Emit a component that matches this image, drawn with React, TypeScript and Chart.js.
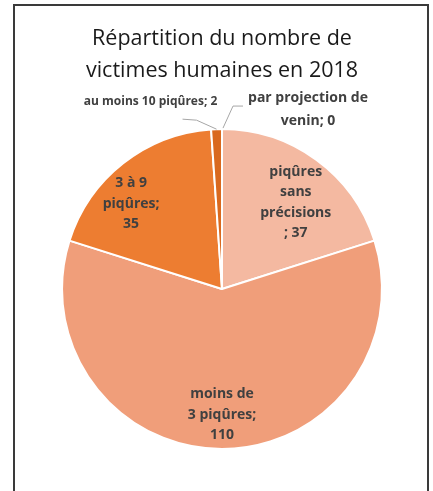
import React, { useEffect, useRef } from "react";
import { Chart, registerables } from "chart.js";

Chart.register(...registerables);

const categories = [
  "piqûres sans précisions",
  "moins de 3 piqûres",
  "3 à 9 piqûres",
  "au moins 10 piqûres",
  "par projection de venin",
];
const values = [37, 110, 35, 2, 0];
const labelLines = [
  ["piqûres", "sans", "précisions", "; 37"],
  ["moins de", "3 piqûres;", "110"],
  ["3 à 9", "piqûres;", "35"],
  ["au moins 10 piqûres; 2"],
  ["par projection de", "venin; 0"],
];
const titleLines = ["Répartition du nombre de", "victimes humaines en 2018"];
const colors = ["#F4B9A1", "#F09E7A", "#ED7D31", "#D9691F", "#C55A11"];

const labelPlugin = {
  id: "pieLabels",
  afterDatasetsDraw(chart: any) {
    const ctx = chart.ctx;
    const meta = chart.getDatasetMeta(0);
    ctx.save();
    ctx.font = "bold 14px 'Open Sans'";
    ctx.fillStyle = "#404040";
    ctx.textAlign = "center";
    ctx.textBaseline = "middle";
    const lh = 20.5;
    // inside labels: [index, radial fraction, angle shift in radians]
    const inside: [number, number, number][] = [
      [0, 0.71, 0.075],
      [1, 0.785, 0.0],
      [2, 0.78, -0.15],
    ];
    inside.forEach(([i, f, da]) => {
      const arc = meta.data[i];
      const p = arc.getProps(["x", "y", "startAngle", "endAngle", "outerRadius"], true);
      const mid = (p.startAngle + p.endAngle) / 2 + da;
      const cx = p.x + Math.cos(mid) * p.outerRadius * f;
      const cy = p.y + Math.sin(mid) * p.outerRadius * f;
      const lines = labelLines[i];
      lines.forEach((t, k) => {
        ctx.fillText(t, cx, cy + (k - (lines.length - 1) / 2) * lh);
      });
    });
    // outside labels with leader lines
    ctx.strokeStyle = "#A6A6A6";
    ctx.lineWidth = 1;
    {
      const arc = meta.data[4];
      const p = arc.getProps(["x", "y", "startAngle", "endAngle", "outerRadius"], true);
      const mid = (p.startAngle + p.endAngle) / 2;
      const ox = p.x + Math.cos(mid) * p.outerRadius;
      const oy = p.y + Math.sin(mid) * p.outerRadius;
      ctx.beginPath();
      ctx.moveTo(ox + 1, oy - 1);
      ctx.lineTo(ox + 11, oy - 23);
      ctx.lineTo(ox + 21, oy - 23);
      ctx.stroke();
      const lines = labelLines[4];
      lines.forEach((t, k) => {
        ctx.fillText(t, ox + 86, oy - 31 + k * 23);
      });
    }
    {
      ctx.font = "bold 12px 'Open Sans'";
      const arc = meta.data[3];
      const p = arc.getProps(["x", "y", "startAngle", "endAngle", "outerRadius"], true);
      const mid = (p.startAngle + p.endAngle) / 2;
      const ox = p.x + Math.cos(mid) * p.outerRadius;
      const oy = p.y + Math.sin(mid) * p.outerRadius;
      ctx.beginPath();
      ctx.moveTo(ox, oy);
      ctx.lineTo(ox - 20, oy - 9);
      ctx.lineTo(ox - 34, oy - 10);
      ctx.stroke();
      ctx.fillText(labelLines[3][0], ox - 66, oy - 28);
    }
    ctx.restore();
  },
};

export default function App() {
  const ref = useRef<HTMLCanvasElement>(null);
  useEffect(() => {
    if (!ref.current) return;
    const chart = new Chart(ref.current, {
      type: "pie",
      data: {
        labels: categories,
        datasets: [
          {
            data: values,
            backgroundColor: colors,
            borderColor: "#FFFFFF",
            borderWidth: 2,
          },
        ],
      },
      options: {
        animation: false,
        responsive: false,
        maintainAspectRatio: false,
        layout: { padding: { left: 61, right: 50, top: 0, bottom: 41 } },
        plugins: {
          legend: { display: false },
          tooltip: { enabled: false },
          title: {
            display: true,
            text: titleLines,
            color: "#1a1a1a",
            font: { family: "'Open Sans'", size: 21.5, weight: "normal", lineHeight: 1.49 },
            padding: { top: 23, bottom: 41 },
          },
        },
      },
      plugins: [labelPlugin],
    });
    return () => chart.destroy();
  }, []);
  return (
    <div style={{ position: "fixed", left: 0, top: 0, width: 433, height: 491, background: "#fff", overflow: "hidden" }}>
      <canvas ref={ref} width={433} height={491} style={{ position: "absolute", left: 0, top: 0 }} />
      <div
        style={{
          position: "absolute",
          left: 13,
          top: 4,
          width: 412,
          height: 520,
          border: "2px solid #3a3a3a",
          pointerEvents: "none",
        }}
      />
    </div>
  );
}
